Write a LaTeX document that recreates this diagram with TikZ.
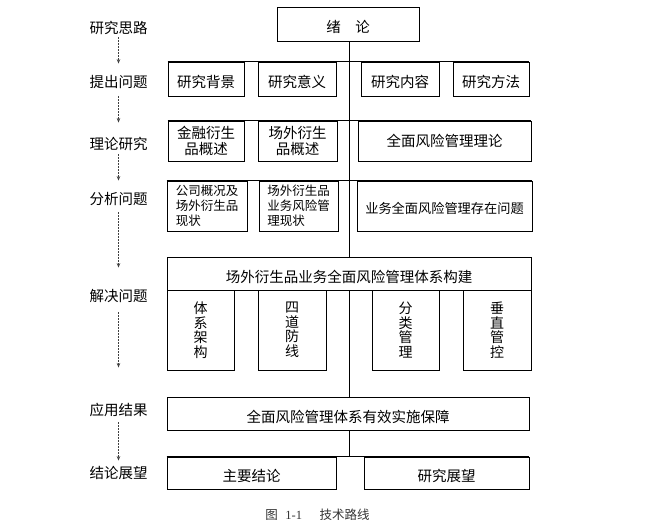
\documentclass[tikz,border=0pt]{standalone}
\usepackage{fontspec}
\setmainfont{Noto Sans CJK SC}
\newfontfamily\capfont{Liberation Serif}
\usetikzlibrary{arrows.meta}
\tikzset{
  box/.style={draw, line width=0.8pt, inner sep=0pt, align=center, font=\fontsize{14.5}{16.5}\selectfont},
  onebox/.style={box, text height=19.5pt, text depth=2pt},
  smallbox/.style={box, align=left, font=\fontsize{12.5}{15}\selectfont},
  vbox/.style={box, font=\fontsize{14}{14.5}\selectfont},
  lbl/.style={inner sep=0pt, font=\fontsize{14.5}{16}\selectfont},
  guide/.style={line width=0.7pt, black!75, dash pattern=on 2pt off 1pt, -{Stealth[length=4.5pt,width=3.5pt]}},
  bus/.style={line width=0.8pt}
}
\begin{document}
\begin{tikzpicture}[x=1pt,y=-1pt]
  \useasboundingbox (0,0) rectangle (653,528);
  % left column
  \node[lbl] (l1) at (118.5,28) {研究思路};
  \node[lbl] (l2) at (118.5,82) {提出问题};
  \node[lbl] (l3) at (118.5,144) {理论研究};
  \node[lbl] (l4) at (118.5,199) {分析问题};
  \node[lbl] (l5) at (118.5,296) {解决问题};
  \node[lbl] (l6) at (118.5,410) {应用结果};
  \node[lbl] (l7) at (118.5,473) {结论展望};
  \draw[guide, shorten <=2.5pt, shorten >=11.5pt] (l1) -- (l2);
  \draw[guide, shorten <=7.5pt, shorten >=14.5pt] (l2) -- (l3);
  \draw[guide, shorten <=3.5pt, shorten >=11.5pt] (l3) -- (l4);
  \draw[guide, shorten <=6.5pt, shorten >=21.5pt] (l4) -- (l5);
  \draw[guide, shorten <=9.5pt, shorten >=35.5pt] (l5) -- (l6);
  \draw[guide, shorten <=5.5pt, shorten >=5.5pt] (l6) -- (l7);
  % boxes
  \node[onebox, minimum width=142pt, minimum height=34pt] (intro) at (348,24) {绪\hspace{1em}论};
  \node[onebox, minimum width=76pt, minimum height=34pt] (r1a) at (206,79) {研究背景};
  \node[onebox, minimum width=78pt, minimum height=34pt] (r1b) at (297,79) {研究意义};
  \node[onebox, minimum width=78pt, minimum height=34pt] (r1c) at (400,79) {研究内容};
  \node[onebox, minimum width=76pt, minimum height=34pt] (r1d) at (491,79) {研究方法};
  \node[box, minimum width=76pt, minimum height=40pt] (r2a) at (206,141) {金融衍生\\品概述};
  \node[box, minimum width=79pt, minimum height=40pt] (r2b) at (297.5,141) {场外衍生\\品概述};
  \node[box, minimum width=173pt, minimum height=40pt] (r2c) at (444.5,141) {全面风险管理理论};
  \node[smallbox, minimum width=80pt, minimum height=50pt] (r3a) at (207,206) {公司概况及\\场外衍生品\\现状};
  \node[smallbox, minimum width=79pt, minimum height=50pt] (r3b) at (298.5,206) {场外衍生品\\业务风险管\\理现状};
  \node[onebox, font=\fontsize{13.2}{15}\selectfont, text height=16pt, minimum width=175pt, minimum height=50pt] (r3c) at (444.5,206) {业务全面风险管理存在问题};
  \node[onebox, minimum width=364pt, minimum height=33pt] (head) at (349,273.5) {场外衍生品业务全面风险管理体系构建};
  \node[vbox, minimum width=67pt, minimum height=80pt] (s1) at (200.5,330) {体\\系\\架\\构};
  \node[vbox, minimum width=68pt, minimum height=80pt] (s2) at (292,330) {四\\道\\防\\线};
  \node[vbox, minimum width=67pt, minimum height=80pt] (s3) at (405.5,330) {分\\类\\管\\理};
  \node[vbox, minimum width=68pt, minimum height=80pt] (s4) at (497,330) {垂\\直\\管\\控};
  \node[onebox, minimum width=362pt, minimum height=33pt] (apply) at (348,413.5) {全面风险管理体系有效实施保障};
  \node[onebox, minimum width=169pt, minimum height=32pt] (r6a) at (251.5,473) {主要结论};
  \node[onebox, minimum width=165pt, minimum height=32pt] (r6b) at (446.5,473) {研究展望};
  % lines
  \draw[bus] (r1a.north west) -- (r1d.north east);
  \draw[bus] (r2a.north west) -- (r2c.north east);
  \draw[bus] (r3a.north west) -- (r3c.north east);
  \draw[bus] (r6a.north west) -- (r6b.north east);
  \draw[bus] (intro.south -| head.north) -- (head.north);
  \draw[bus] (head.south) -- (head.south |- apply.north);
  \draw[bus] (head.south |- apply.south) -- (head.south |- r6a.north);
  \node[inner sep=0pt, text=black!80, font=\fontsize{12.5}{13}\selectfont] (cap) at (317.5,515) {图\hspace{0.6em}{\capfont 1-1}\hspace{1.4em}技术路线};
\end{tikzpicture}
\end{document}
